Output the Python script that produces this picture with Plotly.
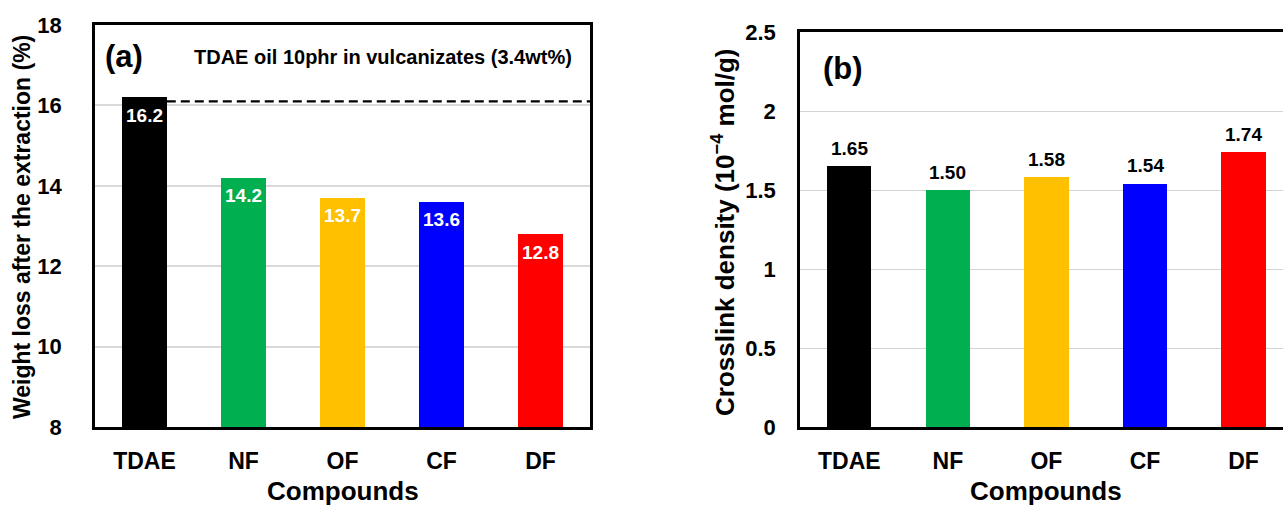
import plotly.graph_objects as go

# ---- data ----
compounds = ["TDAE", "NF", "OF", "CF", "DF"]
weight_loss = [16.2, 14.2, 13.7, 13.6, 12.8]
crosslink_density = [1.65, 1.50, 1.58, 1.54, 1.74]
bar_colors = ["#000000", "#00B050", "#FFC000", "#0000FF", "#FF0000"]
tdae_reference = 16.1
left_yticks = [8, 10, 12, 14, 16, 18]
right_yticks = [0, 0.5, 1, 1.5, 2, 2.5]
right_yticklabels = ["0", "0.5", "1", "1.5", "2", "2.5"]

W, H = 1283, 505
BAR_W = 0.45
FONT = "Liberation Sans, Arial, sans-serif"

fig = go.Figure()

fig.add_trace(go.Bar(x=compounds, y=weight_loss, marker=dict(color=bar_colors, line=dict(width=0)),
                     width=BAR_W, xaxis="x", yaxis="y", showlegend=False, hoverinfo="skip"))
fig.add_trace(go.Bar(x=compounds, y=crosslink_density, marker=dict(color=bar_colors, line=dict(width=0)),
                     width=BAR_W, xaxis="x2", yaxis="y2", showlegend=False, hoverinfo="skip"))

def px_x(p):
    return p / W

def px_y(p):
    return 1 - p / H

axis_common = dict(showline=True, linecolor="black", linewidth=2.5, ticks="",
                   zeroline=False, fixedrange=True, automargin=False)

fig.update_layout(
    width=W, height=H,
    margin=dict(l=0, r=0, t=0, b=0, autoexpand=False),
    paper_bgcolor="white", plot_bgcolor="white",
    font=dict(family=FONT, color="black"),
    bargap=0,
    xaxis=dict(domain=[px_x(95), px_x(590)], range=[-0.5, 4.5], type="category",
               mirror=True, showgrid=False, anchor="y",
               tickfont=dict(size=23, weight="bold"), ticklabelstandoff=12, **axis_common),
    yaxis=dict(domain=[px_y(427), px_y(25)], range=[8, 18], tickvals=left_yticks,
               mirror=True, showgrid=True, gridcolor="#d9d9d9", gridwidth=1.5, anchor="x",
               tickfont=dict(size=22, weight="bold"), ticklabelstandoff=26, **axis_common),
    xaxis2=dict(domain=[px_x(800), 1.0], range=[-0.5, 4.4], type="category",
                mirror=True, showgrid=False, anchor="y2",
                tickfont=dict(size=23, weight="bold"), ticklabelstandoff=12, **axis_common),
    yaxis2=dict(domain=[px_y(427), px_y(32)], range=[0, 2.5], tickvals=right_yticks,
                ticktext=right_yticklabels, mirror=False, showgrid=True, gridcolor="#d4d4d4",
                gridwidth=1, anchor="x2",
                tickfont=dict(size=22, weight="bold"), ticklabelstandoff=17, **axis_common),
)

# dashed reference line (TDAE oil content)
fig.add_shape(type="line", xref="x", yref="y", x0=0 + BAR_W / 2, x1=4.5,
              y0=tdae_reference, y1=tdae_reference,
              line=dict(color="black", width=2.2, dash="9px,5px"))

ann = []
# bar value labels
for c, v in zip(compounds, weight_loss):
    ann.append(dict(x=c, y=v, xref="x", yref="y", text=f"<b>{v:.1f}</b>", showarrow=False,
                    yanchor="middle", yshift=-18, font=dict(size=19, color="white")))
for c, v in zip(compounds, crosslink_density):
    ann.append(dict(x=c, y=v, xref="x2", yref="y2", text=f"<b>{v:.2f}</b>", showarrow=False,
                    yanchor="middle", yshift=18, font=dict(size=19, color="black")))

# panel labels and note
ann.append(dict(x=px_x(103), y=px_y(57), xref="paper", yref="paper", text="<b>(a)</b>",
                showarrow=False, xanchor="left", yanchor="middle", font=dict(size=31)))
ann.append(dict(x=px_x(821), y=px_y(68), xref="paper", yref="paper", text="<b>(b)</b>",
                showarrow=False, xanchor="left", yanchor="middle", font=dict(size=31)))
ann.append(dict(x=px_x(383), y=px_y(57), xref="paper", yref="paper",
                text="<b>TDAE oil 10phr in vulcanizates (3.4wt%)</b>",
                showarrow=False, xanchor="center", yanchor="middle", font=dict(size=20)))

# axis titles
ann.append(dict(x=px_x(22), y=px_y(227), xref="paper", yref="paper",
                text="<b>Weight loss after the extraction (%)</b>", textangle=-90,
                showarrow=False, xanchor="center", yanchor="middle", font=dict(size=23)))
ann.append(dict(x=px_x(724), y=px_y(232), xref="paper", yref="paper",
                text="<b>Crosslink density (10<sup>−4</sup> mol/g)</b>", textangle=-90,
                showarrow=False, xanchor="center", yanchor="middle", font=dict(size=26)))
ann.append(dict(x=px_x(343), y=px_y(491), xref="paper", yref="paper", text="<b>Compounds</b>",
                showarrow=False, xanchor="center", yanchor="middle", font=dict(size=26)))
ann.append(dict(x=px_x(1046), y=px_y(491), xref="paper", yref="paper", text="<b>Compounds</b>",
                showarrow=False, xanchor="center", yanchor="middle", font=dict(size=26)))

fig.update_layout(annotations=ann)
fig.write_html("out.html")
